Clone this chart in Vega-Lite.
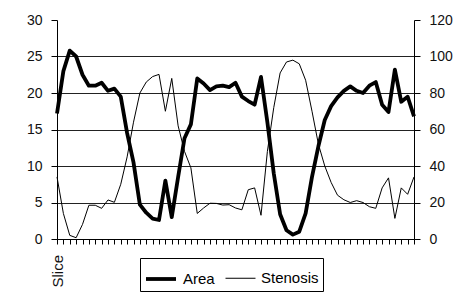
{
  "$schema": "https://vega.github.io/schema/vega-lite/v6.json",
  "width": 357,
  "height": 219,
  "autosize": {"type": "none"},
  "padding": {"left": 57, "top": 20, "right": 46, "bottom": 54},
  "background": "white",
  "config": {
    "view": {"stroke": null},
    "font": "Liberation Sans",
    "axis": {"labelFont": "Liberation Sans", "labelColor": "#111", "domainColor": "#000", "gridColor": "#222", "labelFontSize": 14}
  },
  "data": {"values": [
    {"slice": 1, "area": 17.2, "stenosis": 34},
    {"slice": 2, "area": 23.0, "stenosis": 14},
    {"slice": 3, "area": 25.8, "stenosis": 2},
    {"slice": 4, "area": 25.0, "stenosis": 0.7},
    {"slice": 5, "area": 22.5, "stenosis": 8},
    {"slice": 6, "area": 21.0, "stenosis": 18.5},
    {"slice": 7, "area": 21.0, "stenosis": 18.5},
    {"slice": 8, "area": 21.4, "stenosis": 16.8},
    {"slice": 9, "area": 20.3, "stenosis": 21.4},
    {"slice": 10, "area": 20.6, "stenosis": 20.1},
    {"slice": 11, "area": 19.5, "stenosis": 30},
    {"slice": 12, "area": 14.5, "stenosis": 45},
    {"slice": 13, "area": 10.5, "stenosis": 64},
    {"slice": 14, "area": 4.7, "stenosis": 80},
    {"slice": 15, "area": 3.6, "stenosis": 86},
    {"slice": 16, "area": 2.8, "stenosis": 89},
    {"slice": 17, "area": 2.6, "stenosis": 90.2},
    {"slice": 18, "area": 8.0, "stenosis": 70},
    {"slice": 19, "area": 3.0, "stenosis": 88},
    {"slice": 20, "area": 8.5, "stenosis": 62},
    {"slice": 21, "area": 13.8, "stenosis": 48},
    {"slice": 22, "area": 15.7, "stenosis": 39},
    {"slice": 23, "area": 22.0, "stenosis": 14},
    {"slice": 24, "area": 21.3, "stenosis": 17},
    {"slice": 25, "area": 20.4, "stenosis": 19.6},
    {"slice": 26, "area": 20.9, "stenosis": 19.5},
    {"slice": 27, "area": 21.0, "stenosis": 18.6},
    {"slice": 28, "area": 20.8, "stenosis": 18.8},
    {"slice": 29, "area": 21.4, "stenosis": 17},
    {"slice": 30, "area": 19.5, "stenosis": 16},
    {"slice": 31, "area": 18.9, "stenosis": 27},
    {"slice": 32, "area": 18.4, "stenosis": 28},
    {"slice": 33, "area": 22.2, "stenosis": 13},
    {"slice": 34, "area": 16.0, "stenosis": 48},
    {"slice": 35, "area": 9.0, "stenosis": 72},
    {"slice": 36, "area": 3.4, "stenosis": 91},
    {"slice": 37, "area": 1.2, "stenosis": 97},
    {"slice": 38, "area": 0.6, "stenosis": 98},
    {"slice": 39, "area": 1.0, "stenosis": 96},
    {"slice": 40, "area": 3.5, "stenosis": 87},
    {"slice": 41, "area": 8.5, "stenosis": 70},
    {"slice": 42, "area": 12.7, "stenosis": 52},
    {"slice": 43, "area": 16.3, "stenosis": 40},
    {"slice": 44, "area": 18.2, "stenosis": 31},
    {"slice": 45, "area": 19.4, "stenosis": 24},
    {"slice": 46, "area": 20.3, "stenosis": 21.5},
    {"slice": 47, "area": 20.9, "stenosis": 20},
    {"slice": 48, "area": 20.3, "stenosis": 21},
    {"slice": 49, "area": 20.0, "stenosis": 20},
    {"slice": 50, "area": 21.0, "stenosis": 17.7},
    {"slice": 51, "area": 21.5, "stenosis": 16.8},
    {"slice": 52, "area": 18.4, "stenosis": 28},
    {"slice": 53, "area": 17.4, "stenosis": 33.5},
    {"slice": 54, "area": 23.2, "stenosis": 11.3},
    {"slice": 55, "area": 18.8, "stenosis": 28},
    {"slice": 56, "area": 19.5, "stenosis": 24.5},
    {"slice": 57, "area": 16.8, "stenosis": 34}
  ]},
  "encoding": {
    "x": {
      "field": "slice", "type": "ordinal",
      "scale": {"type": "point", "padding": 0},
      "axis": {
        "labels": false, "tickColor": "black", "tickSize": 5, "grid": false,
        "title": "Slice", "titleFont": "Liberation Sans", "titleFontSize": 15, "titleFontWeight": "normal", "titleColor": "#111",
        "titleAngle": 270, "titleAnchor": "start", "titleAlign": "right", "titleBaseline": "middle", "titlePadding": 10
      }
    }
  },
  "layer": [
    {
      "mark": {"type": "line", "color": "black", "strokeJoin": "round"},
      "encoding": {
        "y": {
          "field": "area", "type": "quantitative",
          "scale": {"domain": [0, 30], "nice": false},
          "axis": {
            "orient": "left", "title": null, "values": [0,5,10,15,20,25,30],
            "grid": true, "gridOpacity": {"condition": {"test": "datum.value == 30", "value": 0}, "value": 1},
            "tickColor": "black", "tickSize": 6, "labelPadding": 9
          }
        },
        "strokeWidth": {
          "datum": "Area", "type": "nominal",
          "scale": {"domain": ["Area", "Stenosis"], "range": [3.8, 1]},
          "legend": {
            "orient": "none", "legendX": 83, "legendY": 238, "direction": "horizontal", "title": null,
            "symbolType": "stroke", "symbolSize": 900, "symbolStrokeColor": "black",
            "strokeColor": "black", "padding": 4,
            "labelFontSize": 15, "labelFont": "Liberation Sans", "labelColor": "#000", "columnPadding": 8, "labelOffset": 5
          }
        }
      }
    },
    {
      "mark": {"type": "line", "color": "black", "strokeJoin": "round"},
      "encoding": {
        "y": {
          "field": "stenosis", "type": "quantitative",
          "scale": {"domain": [0, 120], "nice": false},
          "axis": {
            "orient": "right", "title": null, "values": [0,20,40,60,80,100,120],
            "grid": false, "tickColor": "black", "tickSize": 6, "labelPadding": 9
          }
        },
        "strokeWidth": {"datum": "Stenosis", "type": "nominal"}
      }
    }
  ],
  "resolve": {"scale": {"y": "independent"}}
}
